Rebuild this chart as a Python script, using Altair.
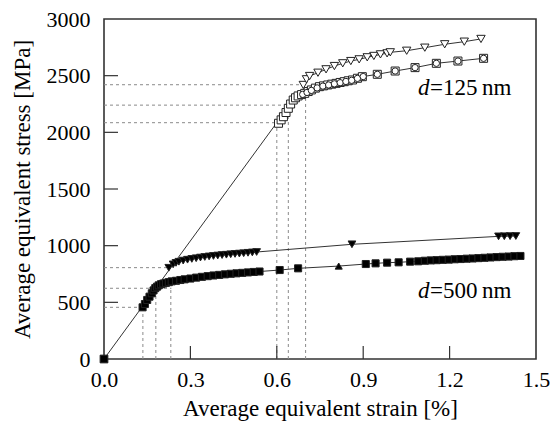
import altair as alt
import pandas as pd

# ---------------- data ----------------
# d = 125 nm : open down-triangles
tri125_x = [0.692, 0.703, 0.714, 0.743, 0.771, 0.800, 0.829, 0.857, 0.886, 0.914,
            0.937, 0.960, 0.983, 0.994, 1.051, 1.114, 1.183, 1.251, 1.309]
tri125_y = [2418, 2468, 2497, 2526, 2556, 2585, 2609, 2629, 2644, 2662,
            2674, 2688, 2697, 2706, 2720, 2747, 2777, 2800, 2824]

# d = 125 nm : open squares
sq125_x = [0.606, 0.615, 0.623, 0.632, 0.640, 0.648, 0.657, 0.665, 0.674, 0.686,
           0.697, 0.709, 0.720, 0.734, 0.748, 0.762, 0.777, 0.791, 0.806, 0.820,
           0.834, 0.848, 0.863, 0.880, 0.897, 0.949, 1.011, 1.080, 1.154, 1.229, 1.318]
sq125_y = [2080, 2110, 2138, 2175, 2212, 2250, 2285, 2305, 2321, 2333,
           2344, 2360, 2374, 2390, 2403, 2410, 2418, 2425, 2432, 2440,
           2447, 2455, 2462, 2477, 2491, 2512, 2541, 2571, 2609, 2629, 2653]

# d = 125 nm : open circles
circ125_x = [0.690, 0.705, 0.720, 0.740, 0.760, 0.780, 0.800, 0.820, 0.840, 0.860,
             0.880, 0.900, 0.949, 1.011, 1.080, 1.154, 1.229, 1.318]
circ125_y = [2335, 2352, 2370, 2392, 2408, 2418, 2428, 2438, 2449, 2459,
             2476, 2492, 2512, 2541, 2571, 2609, 2629, 2653]

# d = 500 nm : filled down-triangles
tri500_x = [0.225, 0.240, 0.250, 0.260, 0.275, 0.290, 0.305, 0.320, 0.335, 0.350,
            0.365, 0.380, 0.395, 0.410, 0.425, 0.440, 0.455, 0.470, 0.485, 0.500,
            0.515, 0.530, 0.861, 1.370, 1.390, 1.410, 1.430]
tri500_y = [805, 835, 848, 858, 868, 876, 883, 889, 895, 900,
            905, 909, 913, 917, 920, 924, 927, 930, 933, 937,
            940, 944, 1012, 1082, 1083, 1084, 1085]

# d = 500 nm : filled squares (and one up-triangle)
sq500_x = [0.134, 0.142, 0.150, 0.158, 0.166, 0.172, 0.178, 0.184, 0.190, 0.198,
           0.206, 0.215, 0.225, 0.235, 0.250, 0.265, 0.280, 0.300, 0.320, 0.340,
           0.360, 0.380, 0.400, 0.420, 0.440, 0.460, 0.480, 0.500, 0.520, 0.540,
           0.610, 0.674, 0.815, 0.909, 0.943, 0.983, 1.023, 1.063, 1.091,
           1.114, 1.135, 1.155, 1.176, 1.197, 1.218, 1.238, 1.259, 1.280, 1.300,
           1.321, 1.342, 1.363, 1.384, 1.405, 1.425, 1.446]
sq500_y = [456, 485, 521, 550, 580, 605, 625, 638, 650, 660,
           666, 672, 678, 685, 690, 697, 703, 710, 718, 725,
           731, 737, 742, 747, 752, 756, 760, 764, 768, 772,
           785, 800, 820, 838, 844, 850, 853, 859, 862,
           867, 870, 872, 875, 877, 880, 882, 885, 887, 890,
           893, 896, 899, 902, 904, 907, 909]
sq500_shape = ["square"] * 32 + ["triangle-up"] + ["square"] * 23

# elastic line
elastic_x = [0.0, 0.600]
elastic_y = [0, 2085]

# dashed guide lines
hdash_y = [2420, 2240, 2085, 806, 624, 456]
hdash_xend = [0.686, 0.640, 0.600, 0.223, 0.234, 0.126]
vdash_x = [0.600, 0.640, 0.700, 0.135, 0.180, 0.232]
vdash_yend = [2085, 2240, 2300, 456, 638, 624]

x_ticks = [0.3, 0.6, 0.9, 1.2]
y_ticks = [500, 1000, 1500, 2000, 2500]

# ---------------- tables ----------------
rows = []
for x, y in zip(tri125_x, tri125_y):
    rows.append(dict(series="t125", strain=x, stress=y, shape="triangle-down", fill="white", size=70))
for x, y in zip(sq125_x, sq125_y):
    rows.append(dict(series="s125", strain=x, stress=y, shape="square", fill="white", size=64))
for x, y in zip(circ125_x, circ125_y):
    rows.append(dict(series="c125", strain=x, stress=y, shape="circle", fill="white", size=40))
for x, y in zip(tri500_x, tri500_y):
    rows.append(dict(series="t500", strain=x, stress=y, shape="triangle-down", fill="black", size=60))
for x, y, s in zip(sq500_x, sq500_y, sq500_shape):
    rows.append(dict(series="s500", strain=x, stress=y, shape=s, fill="black", size=50))
rows.append(dict(series="origin", strain=0.0, stress=0, shape="square", fill="black", size=60))
pts = pd.DataFrame(rows)
lines_df = pts[pts.series.isin(["t125", "s125", "t500", "s500"])]

elastic = pd.DataFrame({"strain": elastic_x, "stress": elastic_y})
hd = pd.DataFrame({"strain": [0.0] * len(hdash_y), "strain2": hdash_xend,
                   "stress": hdash_y, "stress2": hdash_y})
vd = pd.DataFrame({"strain": vdash_x, "strain2": vdash_x,
                   "stress": [0] * len(vdash_x), "stress2": vdash_yend})
dash = pd.concat([hd, vd], ignore_index=True)

FONT = "Liberation Serif"
xscale = alt.Scale(domain=[0, 1.5], nice=False, zero=False)
yscale = alt.Scale(domain=[0, 3000], nice=False)
xaxis = alt.Axis(values=[0, 0.3, 0.6, 0.9, 1.2, 1.5], format=".1f", grid=False,
                 ticks=False, labelPadding=10, titlePadding=7, labelFlush=False,
                 domain=False, labelFont=FONT, titleFont=FONT, labelFontSize=22,
                 titleFontSize=23, labelColor="black", titleColor="black",
                 titleFontWeight="normal")
yaxis = alt.Axis(values=[0, 500, 1000, 1500, 2000, 2500, 3000], format="d", grid=False,
                 ticks=False, labelPadding=14, titlePadding=12, domain=False,
                 labelFlush=False, labelFont=FONT, titleFont=FONT, labelFontSize=22,
                 titleFontSize=23, labelColor="black", titleColor="black",
                 titleFontWeight="normal")
XT = "Average equivalent strain [%]"
YT = "Average equivalent stress [MPa]"


def X(field="strain"):
    return alt.X(f"{field}:Q", scale=xscale, axis=xaxis, title=XT)


def Y(field="stress"):
    return alt.Y(f"{field}:Q", scale=yscale, axis=yaxis, title=YT)


dash_layer = alt.Chart(dash).mark_rule(color="#8a8a8a", strokeDash=[3, 3], strokeWidth=1).encode(
    x=X(), x2="strain2:Q", y=Y(), y2="stress2:Q")

elastic_layer = alt.Chart(elastic).mark_line(color="#333", strokeWidth=1).encode(x=X(), y=Y())

line_layer = alt.Chart(lines_df).mark_line(color="#333", strokeWidth=1).encode(
    x=X(), y=Y(), detail="series:N", order="strain:Q")

point_layer = alt.Chart(pts).mark_point(filled=True, stroke="#222", strokeWidth=1, opacity=1).encode(
    x=X(), y=Y(),
    shape=alt.Shape("shape:N", scale=None),
    fill=alt.Fill("fill:N", scale=None),
    size=alt.Size("size:Q", scale=None))

xt = pd.DataFrame({"strain": x_ticks})
yt = pd.DataFrame({"stress": y_ticks})
xtick_layer = alt.Chart(xt).mark_rule(color="#333", strokeWidth=1.2).encode(
    x=X(), y=alt.value(340), y2=alt.value(327))
ytick_layer = alt.Chart(yt).mark_rule(color="#333", strokeWidth=1.2).encode(
    y=Y(), x=alt.value(0), x2=alt.value(14))

lab = pd.DataFrame({"strain": [1.09, 1.09], "stress": [2329, 538],
                    "d": ["d", "d"], "rest": ["=125\u2009nm", "=500\u2009nm"]})
d_layer = alt.Chart(lab).mark_text(font=FONT, fontSize=23, fontStyle="italic", align="left",
                                   baseline="alphabetic", color="black").encode(
    x=X(), y=Y(), text="d:N")
rest_layer = alt.Chart(lab).mark_text(font=FONT, fontSize=23, align="left", dx=12,
                                      baseline="alphabetic", color="black").encode(
    x=X(), y=Y(), text="rest:N")

chart = alt.layer(dash_layer, elastic_layer, line_layer, point_layer,
                  xtick_layer, ytick_layer, d_layer, rest_layer).properties(
    width=432, height=340,
    autosize=alt.AutoSizeParams(type="none"),
    padding={"left": 96, "top": 11, "right": 14, "bottom": 65},
    background="white",
).configure_view(stroke="#333", strokeWidth=1.6)

chart.save("out.html", embed_options={"renderer": "svg", "actions": False})
